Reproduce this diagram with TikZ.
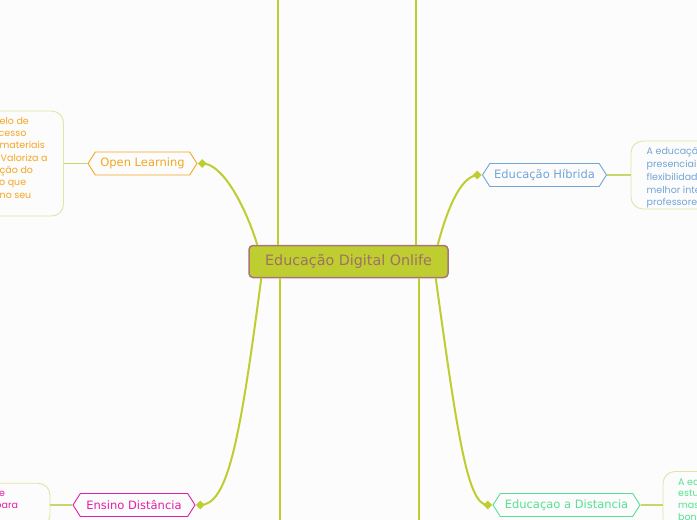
\documentclass[tikz,border=0pt]{standalone}
\usepackage{fontspec}
\setmainfont{DejaVu Sans}
\newfontfamily\boxfont{Poppins}
\usetikzlibrary{shapes.symbols,shapes.geometric}
\definecolor{bg}{RGB}{252,252,252}
\definecolor{lnk}{RGB}{190,205,48}
\definecolor{cfill}{RGB}{190,206,48}
\definecolor{cborder}{RGB}{168,118,118}
\definecolor{ctext}{RGB}{160,112,100}
\definecolor{orng}{RGB}{245,166,35}
\definecolor{blu}{RGB}{115,165,215}
\definecolor{mag}{RGB}{225,30,170}
\definecolor{mint}{RGB}{85,225,145}
\definecolor{boxln}{RGB}{222,230,165}
\definecolor{thinln}{RGB}{200,214,110}
\begin{document}
\begin{tikzpicture}[x=1pt,y=-1pt,
 conn/.style={draw=lnk,line width=2pt},
 topic/.style={shape=signal,signal to=west and east,signal pointer angle=115,draw=#1,text=#1,line width=0.9pt,fill=bg,minimum height=23pt,inner sep=0pt,font=\fontsize{11.5}{13}\selectfont},
 knob/.style={diamond,fill=lnk,minimum size=9pt,inner sep=0pt},
 notebox/.style={draw=boxln,line width=0.9pt,rounded corners=12pt,fill=bg},
 notetext/.style={font=\boxfont\fontsize{9.5}{10}\selectfont,text=#1,inner sep=0pt,anchor=base west},
 tie/.style={draw=thinln,line width=1.4pt}]
\fill[bg] (0,0) rectangle (697,520);
\useasboundingbox (0,0) rectangle (697,520);
\clip (0,0) rectangle (697,520);

% central node
\node[draw=cborder, fill=cfill, rounded corners=4pt, line width=1.5pt,
      minimum width=199pt, minimum height=32pt, text=ctext,
      font=\fontsize{14.3}{16}\selectfont] (c) at (348.5,261.5) {Educação Digital Onlife};

% long vertical connectors passing the central node
\coordinate (v1t) at (278,-3);
\coordinate (v1b) at (280,523);
\coordinate (v2t) at (416,-3);
\coordinate (v2b) at (418.5,523);
\draw[conn] (v1t) -- (v1t |- c.north);
\draw[conn] (v1b) -- (v1b |- c.south);
\draw[conn] (v2t) -- (v2t |- c.north);
\draw[conn] (v2b) -- (v2b |- c.south);

% topics
\node[topic=orng, minimum width=109pt] (ol) at (142.5,163.5) {Open Learning};
\node[knob, anchor=west] (old) at (ol.east) {};
\node[topic=blu, minimum width=124pt] (hb) at (544.5,175) {Educação Híbrida};
\node[knob, anchor=east] (hbd) at (hb.west) {};
\node[topic=mag, minimum width=122pt] (ed) at (134,505) {Ensino Distância};
\node[knob, anchor=west] (edd) at (ed.east) {};
\node[topic=mint, minimum width=147pt] (ea) at (566.5,505) {Educaçao a Distancia};
\node[knob, anchor=east] (ead) at (ea.west) {};

% curved connectors from the central node
\draw[conn] (old.center) .. controls (222,163) and (245,205) .. ([xshift=9pt]c.north west);
\draw[conn] (hbd.center) .. controls (460,177) and (447,210) .. ([xshift=-11pt]c.north east);
\draw[conn] ([xshift=13pt]c.south west) .. controls (240,440) and (228,505) .. (edd.center);
\draw[conn] ([xshift=-13pt]c.south east) .. controls (458,440) and (468,505) .. (ead.center);

% note boxes
\node[notebox, minimum width=143.5pt, minimum height=105pt] (olbox) at (-8.25,163.5) {};
\node[notebox, minimum width=149pt, minimum height=68pt] (hbbox) at (705.5,175) {};
\node[notebox, minimum width=130pt, minimum height=43.5pt] (edbox) at (-15,505) {};
\node[notebox, minimum width=127pt, minimum height=67pt] (eabox) at (726.5,505) {};

\draw[tie] (ol.west) -- (olbox.east);
\draw[tie] (hb.east) -- (hbbox.west);
\draw[tie] (ed.west) -- (edbox.east);
\draw[tie] (ea.east) -- (eabox.west);

% note texts
\node[notetext=orng] (olt1) at (-0.5,124.3) {elo de};
\node[notetext=orng] (olt2) at (-1.5,136.6) {cesso};
\node[notetext=orng] (olt3) at (-0.5,148.9) {materiais};
\node[notetext=orng] (olt4) at (0.5,161.2) {Valoriza a};
\node[notetext=orng] (olt5) at (-0.5,173.5) {ção do};
\node[notetext=orng] (olt6) at (-1,185.8) {o que};
\node[notetext=orng] (olt7) at (-0.5,198.1) {no seu};

\node[notetext=blu] (hbt1) at (646.5,154.3) {A educaçã};
\node[notetext=blu] (hbt2) at (646.5,167.2) {presenciai};
\node[notetext=blu] (hbt3) at (646.5,180.1) {flexibilidad};
\node[notetext=blu] (hbt4) at (646.5,193.0) {melhor inte};
\node[notetext=blu] (hbt5) at (646.5,205.9) {professore};

\node[notetext=mag] (edt1) at (-1,496.3) {e};
\node[notetext=mag] (edt2) at (-5,508.3) {para};

\node[notetext=mint] (eat1) at (678,485) {A ed};
\node[notetext=mint] (eat2) at (678,496.8) {estu};
\node[notetext=mint] (eat3) at (678,508.6) {mas};
\node[notetext=mint] (eat4) at (678,520.4) {bon};
\end{tikzpicture}
\end{document}
